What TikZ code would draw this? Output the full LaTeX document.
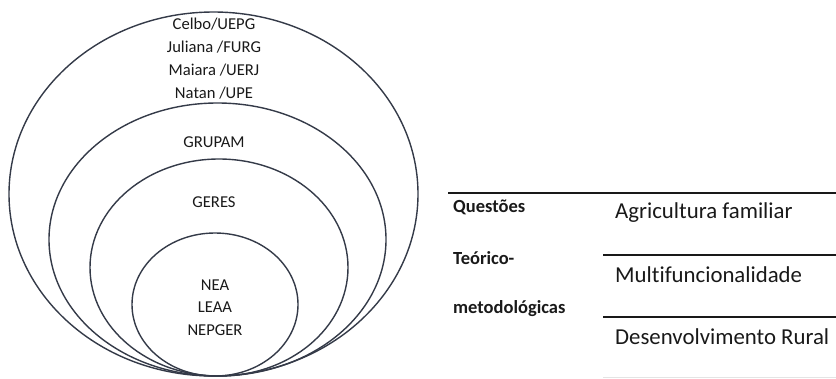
\documentclass[tikz,border=0pt]{standalone}
\usepackage{fontspec}
\setmainfont{Carlito}[Ligatures=NoCommon]
\definecolor{ringc}{HTML}{343A48}
\definecolor{faint}{HTML}{E4E4E4}
\tikzset{
  ring/.style={draw=ringc, line width=1.4pt},
  lab/.style={inner sep=0pt, font=\fontsize{16.6}{18}\selectfont, text=black!90},
  rowtxt/.style={inner sep=0pt, anchor=west, font=\fontsize{22.8}{24}\selectfont, text=black!90},
  hdtxt/.style={inner sep=0pt, anchor=west, font=\fontsize{18.5}{20}\selectfont\bfseries, text=black!90},
  rule/.style={draw=black!90, line width=1.5pt}
}
\begin{document}
\begin{tikzpicture}[x=1pt,y=-1pt]
\useasboundingbox (0,0) rectangle (836,378);
% rings
\draw[ring] (213.5,194) ellipse [x radius=204.5pt, y radius=182pt];
\draw[ring] (217.5,239.5) ellipse [x radius=168.5pt, y radius=136.5pt];
\draw[ring] (219,267.5) ellipse [x radius=129pt, y radius=108.5pt];
\draw[ring] (215,304.5) ellipse [x radius=83pt, y radius=71.5pt];
% ring labels
\node[lab] (celbo) at (214,24) {Celbo/UEPG};
\node[lab] (juliana) at (214,47) {Juliana /FURG};
\node[lab] (maiara) at (214,70) {Maiara /UERJ};
\node[lab] (natan) at (214,93) {Natan /UPE};
\node[lab] (grupam) at (214,142) {GRUPAM};
\node[lab] (geres) at (214,202) {GERES};
\node[lab] (nea) at (215,285) {NEA};
\node[lab] (leaa) at (215,307) {LEAA};
\node[lab] (nepger) at (215,330) {NEPGER};
% table
\draw[rule] (448,193) -- (836,193);
\draw[rule] (603,255) -- (836,255);
\draw[rule] (603,317) -- (836,317);
\draw[draw=faint, line width=1pt] (603,377) -- (836,377);
\node[hdtxt] (q1) at (453,207) {Questões};
\node[hdtxt] (q2) at (453,258) {Teórico-};
\node[hdtxt] (q3) at (453,309) {metodológicas};
\node[rowtxt] (r1) at (615,213) {Agricultura familiar};
\node[rowtxt] (r2) at (615,275) {Multifuncionalidade};
\node[rowtxt] (r3) at (615,337) {Desenvolvimento Rural};
\end{tikzpicture}
\end{document}
